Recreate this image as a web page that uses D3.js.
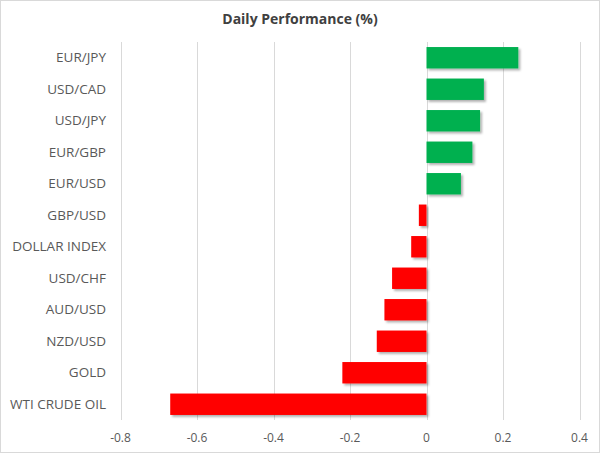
<!DOCTYPE html>
<html>
<head>
<meta charset="utf-8" />
<script src="https://d3js.org/d3.v7.min.js"></script>
<style>
  body { margin: 0; background: #fff; }
  svg { display: block; font-family: "Open Sans", sans-serif; }
</style>
</head>
<body>
<svg id="chart" width="600" height="453"></svg>
<script>
// valori
const categories = ["EUR/JPY", "USD/CAD", "USD/JPY", "EUR/GBP", "EUR/USD", "GBP/USD",
  "DOLLAR INDEX", "USD/CHF", "AUD/USD", "NZD/USD", "GOLD", "WTI CRUDE OIL"];
const values = [0.24, 0.15, 0.14, 0.12, 0.09, -0.02, -0.04, -0.09, -0.11, -0.13, -0.22, -0.67];
const ticks = [-0.8, -0.6, -0.4, -0.2, 0, 0.2, 0.4];

const svg = d3.select("#chart"),
  width = +svg.attr("width"),
  height = +svg.attr("height");

const margin = { top: 42, right: 20.5, bottom: 33, left: 120.5 };

const x = d3.scaleLinear()
  .domain([-0.8, 0.4])
  .range([margin.left, width - margin.right]);

const y = d3.scaleBand()
  .domain(categories)
  .range([margin.top, height - margin.bottom])
  .paddingInner(0.32)
  .paddingOuter(0.16);

// ombra delle barre
const defs = svg.append("defs");
defs.append("filter")
  .attr("id", "shadow")
  .attr("x", "-10%").attr("y", "-20%")
  .attr("width", "130%").attr("height", "160%")
  .append("feDropShadow")
  .attr("dx", 2).attr("dy", 2)
  .attr("stdDeviation", 1.2)
  .attr("flood-color", "#000")
  .attr("flood-opacity", 0.3);

// bordo
svg.append("rect")
  .attr("x", 0.5).attr("y", 0.5)
  .attr("width", width - 1).attr("height", height - 1)
  .attr("fill", "#fff")
  .attr("stroke", "#d9d9d9");

// titolo
svg.append("text")
  .attr("x", 300).attr("y", 24)
  .attr("text-anchor", "middle")
  .attr("font-size", 14)
  .attr("font-weight", "bold")
  .attr("fill", "#404040")
  .text("Daily Performance (%)");

// griglia
svg.append("g")
  .selectAll("line")
  .data(ticks)
  .join("line")
  .attr("x1", d => Math.round(x(d)) + 0.5)
  .attr("x2", d => Math.round(x(d)) + 0.5)
  .attr("y1", margin.top)
  .attr("y2", height - margin.bottom)
  .attr("stroke", "#d9d9d9");

// barre
svg.append("g")
  .selectAll("rect")
  .data(values)
  .join("rect")
  .attr("x", d => x(Math.min(0, d)))
  .attr("width", d => Math.abs(x(d) - x(0)))
  .attr("y", (d, i) => y(categories[i]))
  .attr("height", y.bandwidth())
  .attr("fill", d => d >= 0 ? "#00b050" : "#ff0000")
  .attr("filter", "url(#shadow)");

// etichette categorie
svg.append("g")
  .selectAll("text")
  .data(categories)
  .join("text")
  .attr("x", 106)
  .attr("y", d => y(d) + y.bandwidth() / 2)
  .attr("dy", "0.35em")
  .attr("text-anchor", "end")
  .attr("font-size", 13.5)
  .attr("fill", "#595959")
  .text(d => d);

// etichette asse x
svg.append("g")
  .selectAll("text")
  .data(ticks)
  .join("text")
  .attr("x", d => x(d))
  .attr("y", 438)
  .attr("dy", "0.35em")
  .attr("text-anchor", "middle")
  .attr("font-size", 12)
  .attr("fill", "#595959")
  .text(d => String(d));
</script>
</body>
</html>
